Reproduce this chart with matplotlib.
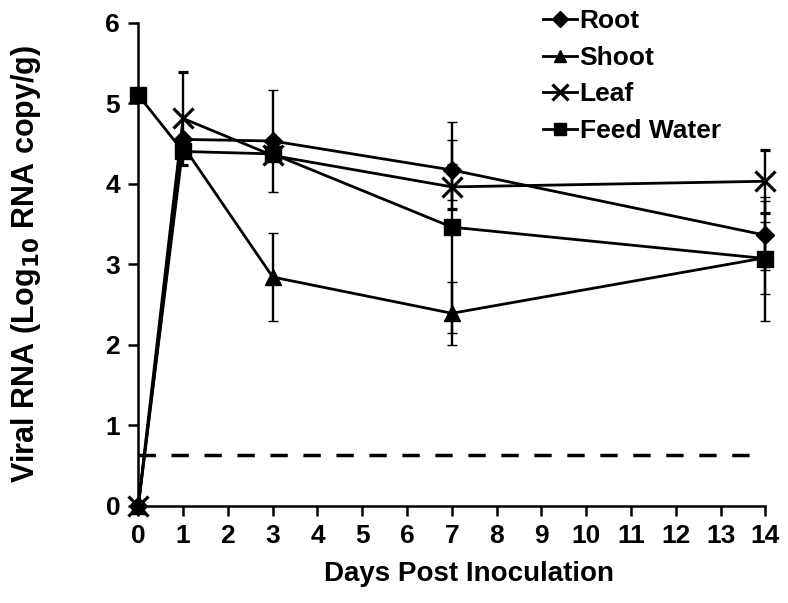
import numpy as np
import matplotlib
matplotlib.use("Agg")
import matplotlib.pyplot as plt
from matplotlib.lines import Line2D

plt.rcParams['font.family'] = ['Liberation Sans', 'DejaVu Sans']
plt.rcParams['font.weight'] = 'bold'
plt.rcParams['mathtext.default'] = 'bf'

days = [0, 1, 3, 7, 14]

root = [0.0, 4.55, 4.53, 4.17, 3.36]
root_err = [0.0, 0.0, 0.63, 0.37, 0.43]

shoot = [0.0, 4.47, 2.84, 2.39, 3.08]
shoot_err = [0.0, 0.0, 0.55, 0.39, 0.45]

leaf = [0.0, 4.81, 4.35, 3.96, 4.03]
leaf_err = [0.0, 0.58, 0.0, 0.27, 0.39]

feed_water = [5.10, 4.40, 4.37, 3.46, 3.07]
feed_water_err = [0.0, 0.0, 0.0, 1.31, 0.77]

detection_limit = 0.63
limit_span = [0, 13.75]

series = [
    ("Root", root, root_err, "D", 9.5),
    ("Shoot", shoot, shoot_err, "^", 11),
    ("Leaf", leaf, leaf_err, "x", 14),
    ("Feed Water", feed_water, feed_water_err, "s", 11),
]

fig = plt.figure(figsize=(7.88, 6.03), dpi=100)
ax = fig.add_axes([0.1755, 0.1614, 0.7959, 0.801])

handles = []
for name, vals, err, marker, ms in series:
    mew = 2.3 if marker == "x" else 1
    ax.errorbar(days, vals, yerr=err, color="black", lw=2, marker=marker,
                ms=ms, mew=mew, elinewidth=1.7, capsize=3.5, capthick=1.7,
                clip_on=False, zorder=3)
    handles.append(Line2D([], [], color="black", lw=2, marker=marker,
                          ms=ms * 0.85, mew=mew, label=name))

ax.plot(limit_span, [detection_limit, detection_limit], color="black",
        lw=2.5, ls=(0, (5, 4.5)))

ax.set_xlim(0, 14)
ax.set_ylim(0, 6)
ax.set_xticks(range(0, 15))
ax.set_yticks(range(0, 7))
ax.spines['top'].set_visible(False)
ax.spines['right'].set_visible(False)
for s in ['left', 'bottom']:
    ax.spines[s].set_linewidth(1.8)
ax.tick_params(width=1.8, length=7, labelsize=19, pad=6)
for lab in ax.get_xticklabels() + ax.get_yticklabels():
    lab.set_fontweight('bold')

ax.set_xlabel("Days Post Inoculation", fontsize=20, fontweight='bold')
ax.xaxis.set_label_coords(0.528, -0.115)
ax.set_ylabel("Viral RNA (Log$_{10}$ RNA copy/g)", fontsize=22,
              fontweight='bold')
ax.yaxis.set_label_coords(-0.152, 0.5)

ax.legend(handles=handles, loc="upper left", bbox_to_anchor=(0.628, 1.05),
          frameon=False, fontsize=19, handlelength=1.3, handletextpad=0.1,
          labelspacing=0.48, borderaxespad=0)

fig.savefig("out.png", dpi=100)
